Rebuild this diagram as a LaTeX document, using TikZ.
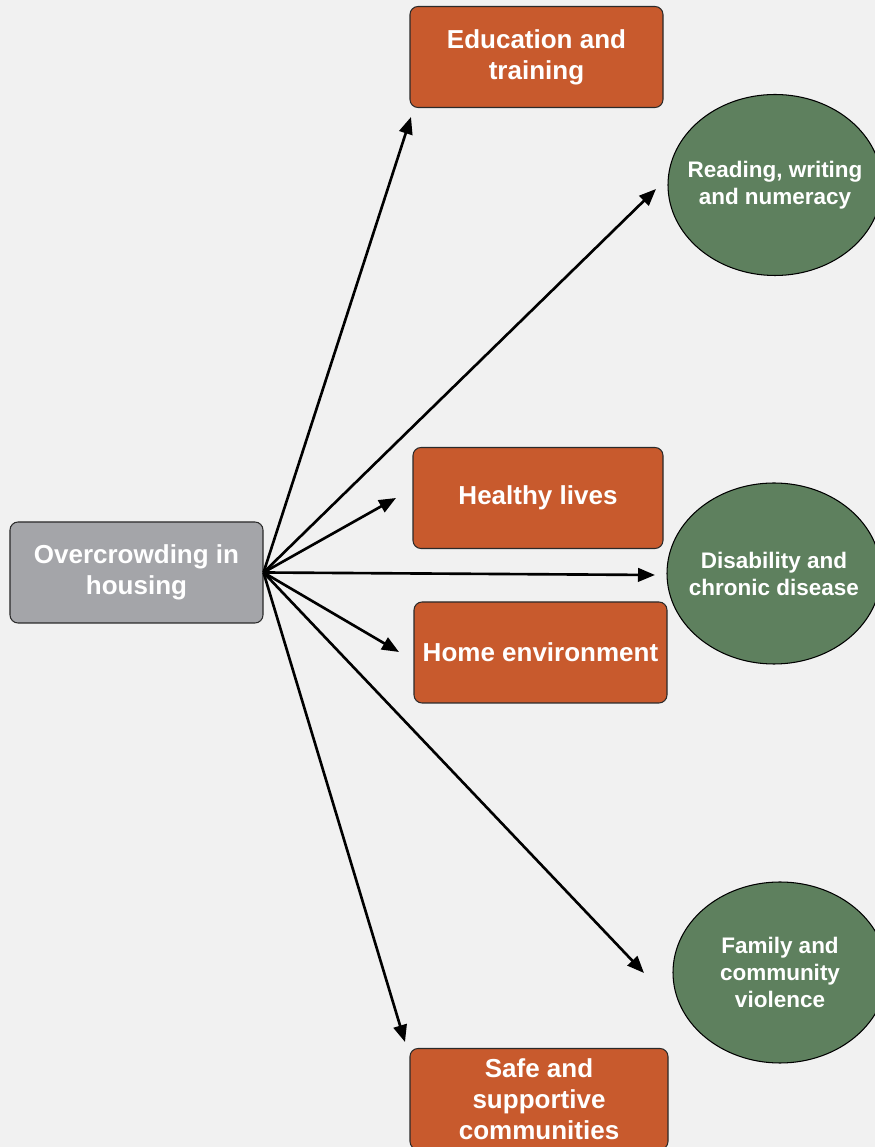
\documentclass[tikz,border=0pt]{standalone}
\usepackage{fontspec}
\setmainfont{Liberation Sans}
\usetikzlibrary{shapes.geometric, arrows.meta}

\definecolor{bgGrey}{HTML}{F1F1F1}
\definecolor{boxGrey}{HTML}{A4A5A9}
\definecolor{boxOrange}{HTML}{C85A2D}
\definecolor{boxGreen}{HTML}{5E805E}
\definecolor{lineDark}{HTML}{2A2A2A}

\begin{document}
\begin{tikzpicture}[
		mainbox/.style={shape=rectangle, rounded corners=0.16cm, draw=lineDark, line width=0.6pt, text=white, align=center, font=\bfseries\fontsize{14.8}{17.5}\selectfont, minimum height=2.02cm},
		srcbox/.style={mainbox, fill=boxGrey, minimum width=5.06cm},
		areabox/.style={mainbox, fill=boxOrange},
		outcome/.style={shape=ellipse, draw=black, line width=0.6pt, fill=boxGreen, text=white, align=center, inner xsep=-0.6cm, inner ysep=0pt, font=\bfseries\fontsize{12.8}{15.4}\selectfont, minimum width=4.28cm, minimum height=3.62cm},
		link/.style={-{Triangle[length=0.34cm, width=0.27cm]}, line width=1.5pt, black}
	]
		% Background and page size:
		\fill[bgGrey] (0, 0) rectangle (17.5, 22.94);
		\useasboundingbox (0, 0) rectangle (17.5, 22.94);
		% Nodes:
		\node[srcbox] (crowd) at (2.730, 11.490){Overcrowding in\\housing};
		\node[areabox, minimum width=5.06cm] (edu) at (10.730, 21.800){Education and\\training};
		\node[areabox, minimum width=5.00cm] (health) at (10.760, 12.980){Healthy lives};
		\node[areabox, minimum width=5.06cm] (home) at (10.810, 9.890){Home environment};
		\node[areabox, minimum width=5.16cm] (safe) at (10.780, 0.960){Safe and\\supportive\\communities};
		\node[outcome] (read) at (15.500, 19.240){Reading, writing\\and numeracy};
		\node[outcome] (disab) at (15.480, 11.470){Disability and\\chronic disease};
		\node[outcome] (family) at (15.600, 3.490){Family and\\community\\violence};
		% Arrow ends:
		\coordinate (eduTip) at (8.220, 20.600);
		\coordinate (readTip) at (13.120, 19.160);
		\coordinate (healthTip) at (7.920, 12.980);
		\coordinate (disabTip) at (13.100, 11.440);
		\coordinate (homeTip) at (7.980, 9.900);
		\coordinate (familyTip) at (12.880, 3.480);
		\coordinate (safeTip) at (8.100, 2.100);
		% Arrows:
		\foreach \tip in {eduTip, readTip, healthTip, disabTip, homeTip, familyTip, safeTip}
			\draw[link] (crowd.east) -- (\tip);
	\end{tikzpicture}
\end{document}
